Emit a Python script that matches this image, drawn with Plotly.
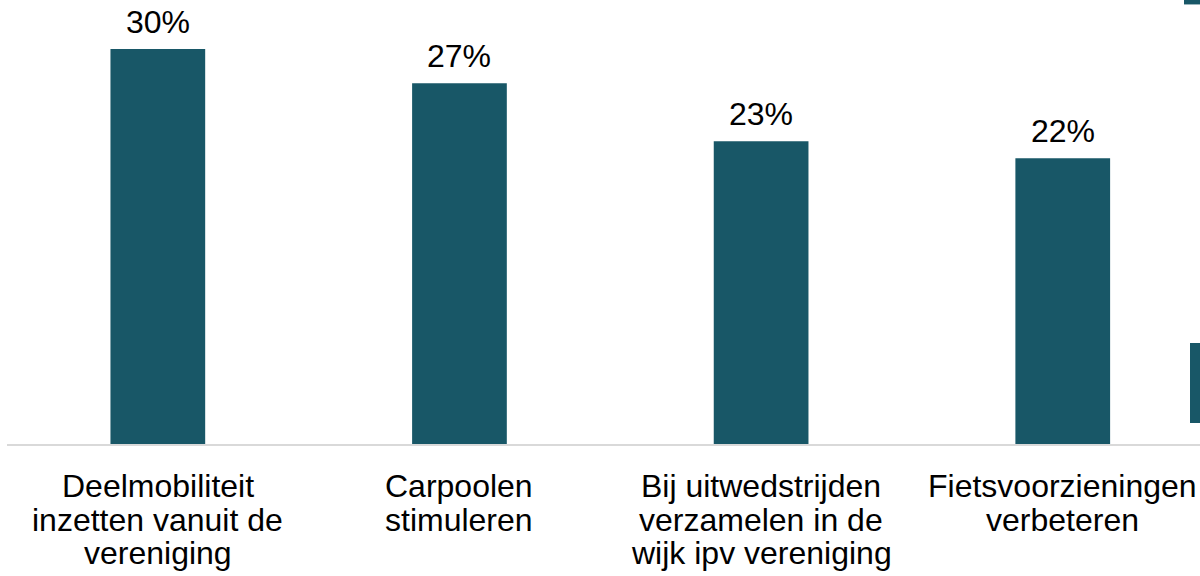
import plotly.graph_objects as go

categories = [
    "Deelmobiliteit\ninzetten vanuit de\nvereniging",
    "Carpoolen\nstimuleren",
    "Bij uitwedstrijden\nverzamelen in de\nwijk ipv vereniging",
    "Fietsvoorzieningen\nverbeteren",
]
values = [30.0, 27.4, 23.0, 21.7]
labels = ["30%", "27%", "23%", "22%"]

TEAL = "#185767"
FONT = "Liberation Sans, Arial, sans-serif"
FS = 32

fig = go.Figure()
fig.add_trace(go.Bar(
    x=list(range(len(categories))),
    y=values,
    width=0.314,
    marker=dict(color=TEAL, line=dict(width=0)),
    hoverinfo="skip",
))

ann = []
for i, (v, lab) in enumerate(zip(values, labels)):
    ann.append(dict(x=i, y=v, xref="x", yref="y", text=lab, showarrow=False,
                    yanchor="bottom", yshift=7,
                    font=dict(family=FONT, size=FS, color="#000000")))
LINE_H = 33.7
for i, cat in enumerate(categories):
    for j, line in enumerate(cat.split("\n")):
        ann.append(dict(x=i, y=0, xref="x", yref="paper", text=line, showarrow=False,
                        yanchor="middle", yshift=-(42 + j * LINE_H),
                        font=dict(family=FONT, size=FS, color="#000000")))

fig.update_layout(
    width=1200, height=576,
    margin=dict(l=7, r=0, t=0, b=132),
    paper_bgcolor="white", plot_bgcolor="white",
    showlegend=False,
    annotations=ann,
    xaxis=dict(range=[-0.5, 3.455], showticklabels=False, ticks="",
               showgrid=False, zeroline=False, showline=True,
               linecolor="#d9d9d9", linewidth=2, fixedrange=True),
    yaxis=dict(range=[0, 33.72], visible=False, showgrid=False, zeroline=False,
               fixedrange=True),
    shapes=[
        dict(type="rect", xref="paper", yref="paper", x0=0.9866, x1=1.0, y0=0.9900, y1=1.0,
             fillcolor=TEAL, line=dict(width=0), layer="above"),
        dict(type="rect", xref="paper", yref="paper", x0=0.9916, x1=1.0, y0=0.0473, y1=0.2275,
             fillcolor=TEAL, line=dict(width=0), layer="above"),
    ],
)

fig.write_html(
    "out.html",
    config={"displayModeBar": False},
    post_script="document.body.style.margin='0';document.body.style.overflow='hidden';",
)
